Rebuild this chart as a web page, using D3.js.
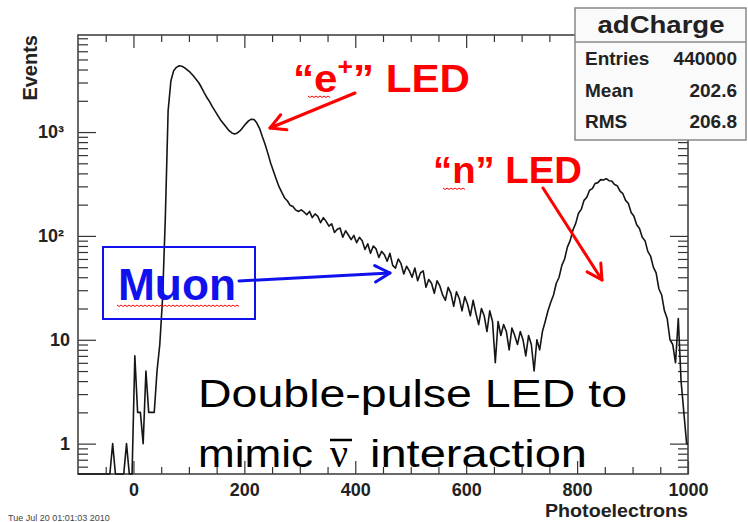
<!DOCTYPE html>
<html>
<head>
<meta charset="utf-8">
<script src="https://cdn.jsdelivr.net/npm/d3@7"></script>
<style>
  body { margin: 0; background: #fff; }
  svg { display: block; font-family: "Liberation Sans", Arial, sans-serif; }
</style>
</head>
<body>
<main></main>
<script>
// histogram: adCharge, 5 p.e. bins starting at -100
const binStart = -100
const binWidth = 5
const counts = [
  0, 0, 0, 0, 0, 0, 0, 0, 0, 0,
  0, 0, 1, 0, 0, 0, 0, 1, 0, 0,
  7, 2, 2, 1, 5, 2, 2, 2, 5, 9,
  25, 150, 1600, 3100, 3900, 4200, 4350, 4300, 4150, 3950,
  3750, 3500, 3250, 3000, 2700, 2400, 2150, 1950, 1750, 1580,
  1430, 1300, 1200, 1110, 1030, 980, 960, 980, 1030, 1110,
  1200, 1280, 1330, 1320, 1220, 1080, 900, 760, 620, 500,
  420, 352, 298, 262, 232, 218, 197, 192, 178, 172,
  178, 170, 160, 172, 150, 163, 154, 134, 150, 138,
  124, 131, 108, 116, 119, 97, 112, 102, 92, 101,
  86, 97, 90, 74, 84, 68, 80, 75, 62, 71,
  66, 57, 68, 52, 49, 60, 54, 43, 51, 46,
  40, 49, 37, 44, 46, 32, 38, 35, 28, 37,
  33, 27, 24, 32, 28, 21, 29, 25, 19, 26,
  22, 17, 24, 18, 14, 20, 17, 12, 19, 15,
  6, 15, 11, 14, 12, 8, 13, 11, 9, 12,
  10, 7, 11, 9, 5, 10, 8, 12, 15, 19,
  23, 27, 35, 40, 52, 60, 78, 90, 114, 132,
  165, 180, 220, 236, 275, 285, 320, 326, 348, 345,
  356, 340, 338, 312, 304, 270, 255, 220, 205, 168,
  155, 128, 118, 97, 90, 71, 64, 50, 44, 31,
  27, 19, 16, 10, 9, 6, 16, 4, 2, 1,
]

const xDomain = [-100, 1000]
const yDomain = [0.51, 8600]
const xMajor = [0, 200, 400, 600, 800, 1000]
const yMajor = [1, 10, 100, 1000]
const yLabels = ["1", "10", "10²", "10³"]

const statNames = ["Entries", "Mean", "RMS"]
const statValues = ["440000", "202.6", "206.8"]

const w = 748
const h = 522
const frame = { left: 78, right: 688, top: 35, bottom: 474 }

const svg = d3.select("main").append("svg").attr("width", w).attr("height", h)

const x = d3.scaleLinear().domain(xDomain).range([frame.left, frame.right])
const y = d3.scaleLog().domain(yDomain).range([frame.bottom, frame.top])

const xMinor = d3.range(-50, 1000, 50).filter((v) => v % 200 !== 0)
const yMinor = []
;[0.1, 1, 10, 100, 1000].forEach((dec) => {
  d3.range(2, 10).forEach((m) => {
    const v = dec * m
    if (v > yDomain[0] && v < yDomain[1]) yMinor.push(v)
  })
})

const styleAxis = (g) => {
  g.select(".domain").remove()
  g.attr("font-family", null).attr("font-size", null)
  g.selectAll(".tick line").attr("stroke", "#333").attr("stroke-width", 1.2)
  g.selectAll(".tick text")
    .attr("fill", "#222")
    .attr("font-size", 18)
    .attr("font-weight", "bold")
}

// axes (ROOT style, ticks inside the frame)
svg.append("g")
  .attr("transform", `translate(0, ${frame.bottom})`)
  .call(d3.axisBottom(x).tickValues(xMajor).tickSizeInner(-13).tickSizeOuter(0).tickPadding(9).tickFormat(d3.format("d")))
  .call(styleAxis)
svg.append("g")
  .attr("transform", `translate(0, ${frame.bottom})`)
  .call(d3.axisBottom(x).tickValues(xMinor).tickSizeInner(-7).tickSizeOuter(0).tickFormat(""))
  .call(styleAxis)
svg.append("g")
  .attr("transform", `translate(0, ${frame.top})`)
  .call(d3.axisTop(x).tickValues(xMajor).tickSizeInner(-13).tickSizeOuter(0).tickFormat(""))
  .call(styleAxis)
svg.append("g")
  .attr("transform", `translate(0, ${frame.top})`)
  .call(d3.axisTop(x).tickValues(xMinor).tickSizeInner(-7).tickSizeOuter(0).tickFormat(""))
  .call(styleAxis)

svg.append("g")
  .attr("transform", `translate(${frame.left}, 0)`)
  .call(d3.axisLeft(y).tickValues(yMajor).tickSizeInner(-18).tickSizeOuter(0).tickPadding(8)
    .tickFormat((d) => yLabels[yMajor.indexOf(d)]))
  .call(styleAxis)
  .call((g) => g.selectAll(".tick text").attr("dx", (d) => (d >= 100 ? -6 : 0)))
svg.append("g")
  .attr("transform", `translate(${frame.left}, 0)`)
  .call(d3.axisLeft(y).tickValues(yMinor).tickSizeInner(-10).tickSizeOuter(0).tickFormat(""))
  .call(styleAxis)
svg.append("g")
  .attr("transform", `translate(${frame.right}, 0)`)
  .call(d3.axisRight(y).tickValues(yMajor).tickSizeInner(-18).tickSizeOuter(0).tickFormat(""))
  .call(styleAxis)
svg.append("g")
  .attr("transform", `translate(${frame.right}, 0)`)
  .call(d3.axisRight(y).tickValues(yMinor).tickSizeInner(-10).tickSizeOuter(0).tickFormat(""))
  .call(styleAxis)

svg.append("rect")
  .attr("x", frame.left)
  .attr("y", frame.top)
  .attr("width", frame.right - frame.left)
  .attr("height", frame.bottom - frame.top)
  .attr("fill", "none")
  .attr("stroke", "#444")
  .attr("stroke-width", 1.6)

// histogram through bin centres, empty bins drop to the frame bottom
const points = [[xDomain[0], 0]]
counts.forEach((c, i) => points.push([binStart + (i + 0.5) * binWidth, c]))
points.push([xDomain[1], counts[counts.length - 1]])
const line = d3.line()
  .x((d) => x(d[0]))
  .y((d) => y(Math.max(d[1], yDomain[0])))

svg.append("path")
  .datum(points)
  .attr("d", line)
  .attr("fill", "none")
  .attr("stroke", "#151515")
  .attr("stroke-width", 1.6)
  .attr("stroke-linejoin", "round")

// axis titles
svg.append("text")
  .text("Events")
  .attr("transform", "translate(37, 35) rotate(-90)")
  .attr("text-anchor", "end")
  .attr("font-size", 20)
  .attr("font-weight", "bold")
  .attr("fill", "#222")

svg.append("text")
  .text("Photoelectrons")
  .attr("x", 688)
  .attr("y", 517)
  .attr("text-anchor", "end")
  .attr("font-size", 18)
  .attr("font-weight", "bold")
  .attr("textLength", 143)
  .attr("lengthAdjust", "spacingAndGlyphs")
  .attr("fill", "#222")

svg.append("text")
  .text("Tue Jul 20 01:01:03 2010")
  .attr("x", 8)
  .attr("y", 521)
  .attr("font-size", 9)
  .attr("fill", "#444")

// annotations
const arrow = (x1, y1, x2, y2, color) => {
  const a = Math.atan2(y2 - y1, x2 - x1)
  const len = 17
  const spread = 0.5
  const g = svg.append("g")
    .attr("stroke", color)
    .attr("stroke-width", 3)
    .attr("fill", "none")
    .attr("stroke-linecap", "round")
    .attr("stroke-linejoin", "round")
  g.append("line").attr("x1", x1).attr("y1", y1).attr("x2", x2).attr("y2", y2)
  g.append("path").attr("d",
    `M${x2 - len * Math.cos(a - spread)},${y2 - len * Math.sin(a - spread)}` +
    `L${x2},${y2}` +
    `L${x2 - len * Math.cos(a + spread)},${y2 - len * Math.sin(a + spread)}`)
}

const squiggle = (x0, x1, yy) => {
  let d = `M${x0},${yy}`
  for (let xx = x0 + 2, k = 1; xx <= x1; xx += 2, k++) d += `L${xx},${yy + (k % 2 ? 1.5 : 0)}`
  svg.append("path").attr("d", d).attr("fill", "none").attr("stroke", "#f00").attr("stroke-width", 1)
}

const ePlus = svg.append("text")
  .attr("x", 293)
  .attr("y", 92)
  .attr("font-size", 38)
  .attr("font-weight", "bold")
  .attr("fill", "#f00")
  .attr("textLength", 177)
  .attr("lengthAdjust", "spacingAndGlyphs")
ePlus.append("tspan").text("“e")
ePlus.append("tspan").text("+").attr("font-size", 24).attr("dy", -17)
ePlus.append("tspan").text("” LED").attr("dy", 17)
squiggle(308, 330, 96)
arrow(355, 93, 270, 128, "#f00")

svg.append("text")
  .text("“n” LED")
  .attr("x", 433)
  .attr("y", 183)
  .attr("font-size", 37)
  .attr("font-weight", "bold")
  .attr("fill", "#f00")
  .attr("textLength", 149)
  .attr("lengthAdjust", "spacingAndGlyphs")
squiggle(443, 465, 188)
arrow(543, 188, 602, 280, "#f00")

svg.append("rect")
  .attr("x", 103)
  .attr("y", 247)
  .attr("width", 152)
  .attr("height", 72)
  .attr("fill", "none")
  .attr("stroke", "#11e")
  .attr("stroke-width", 2)
svg.append("text")
  .text("Muon")
  .attr("x", 118)
  .attr("y", 300)
  .attr("font-size", 44)
  .attr("font-weight", "bold")
  .attr("fill", "#11e")
  .attr("textLength", 118)
  .attr("lengthAdjust", "spacingAndGlyphs")
squiggle(117, 240, 305)
arrow(239, 281, 390, 273, "#11e")

svg.append("text")
  .text("Double-pulse LED to")
  .attr("x", 198)
  .attr("y", 407)
  .attr("font-size", 38)
  .attr("fill", "#000")
  .attr("textLength", 429)
  .attr("lengthAdjust", "spacingAndGlyphs")
svg.append("text")
  .text("mimic")
  .attr("x", 198)
  .attr("y", 467)
  .attr("font-size", 38)
  .attr("fill", "#000")
  .attr("textLength", 115)
  .attr("lengthAdjust", "spacingAndGlyphs")
svg.append("text")
  .text("ν")
  .attr("x", 330)
  .attr("y", 467)
  .attr("font-size", 40)
  .attr("font-family", "Liberation Serif, serif")
  .attr("fill", "#000")
svg.append("line")
  .attr("x1", 330).attr("x2", 352)
  .attr("y1", 440).attr("y2", 440)
  .attr("stroke", "#000")
  .attr("stroke-width", 2.5)
svg.append("text")
  .text("interaction")
  .attr("x", 370)
  .attr("y", 467)
  .attr("font-size", 38)
  .attr("fill", "#000")
  .attr("textLength", 217)
  .attr("lengthAdjust", "spacingAndGlyphs")

// stats box
const stats = svg.append("g")
stats.append("rect")
  .attr("x", 575)
  .attr("y", 8)
  .attr("width", 171)
  .attr("height", 132)
  .attr("fill", "#fafafa")
  .attr("stroke", "#888")
  .attr("stroke-width", 1.5)
stats.append("line")
  .attr("x1", 575).attr("x2", 746)
  .attr("y1", 42).attr("y2", 42)
  .attr("stroke", "#888")
  .attr("stroke-width", 1.5)
stats.append("text")
  .text("adCharge")
  .attr("x", 661)
  .attr("y", 33)
  .attr("text-anchor", "middle")
  .attr("font-size", 24)
  .attr("font-weight", "bold")
  .attr("fill", "#222")
  .attr("textLength", 127)
  .attr("lengthAdjust", "spacingAndGlyphs")
statNames.forEach((name, i) => {
  stats.append("text")
    .text(name)
    .attr("x", 585)
    .attr("y", 65 + i * 31.5)
    .attr("font-size", 19)
    .attr("font-weight", "bold")
    .attr("fill", "#222")
  stats.append("text")
    .text(statValues[i])
    .attr("x", 737)
    .attr("y", 65 + i * 31.5)
    .attr("text-anchor", "end")
    .attr("font-size", 19)
    .attr("font-weight", "bold")
    .attr("fill", "#222")
})
</script>
</body>
</html>
